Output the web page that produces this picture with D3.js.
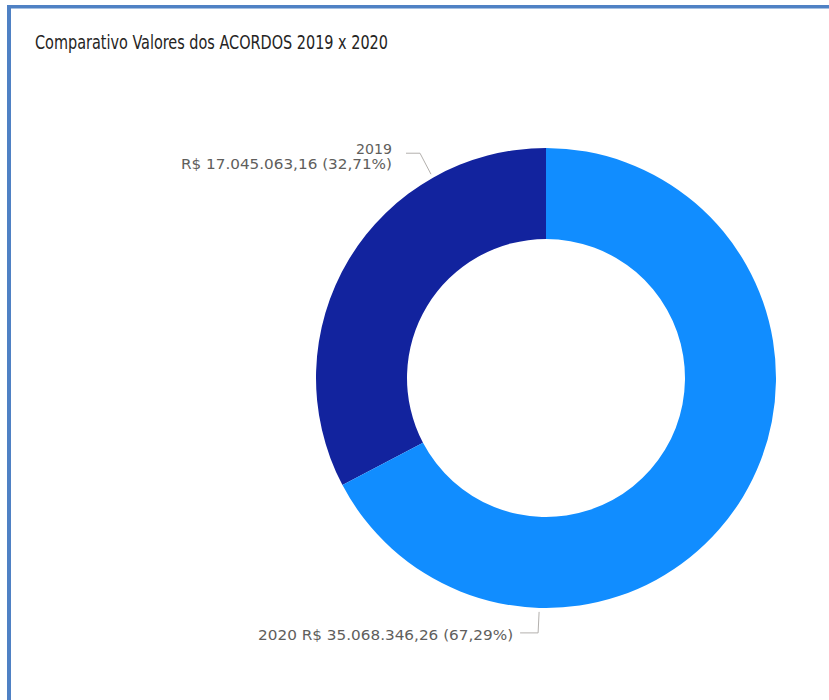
<!DOCTYPE html>
<html>
<head>
<meta charset="utf-8">
<script src="https://cdn.jsdelivr.net/npm/d3@7"></script>
<style>
  html, body { margin: 0; padding: 0; background: #fff; }
  svg { display: block; }
</style>
</head>
<body>
<svg id="chart" width="829" height="700"></svg>
<script>
// Agreement totals per year
const categories = ["2019", "2020"];
const values = [17045063.16, 35068346.26];
const valueLabels = ["R$ 17.045.063,16", "R$ 35.068.346,26"];
const percentLabels = ["32,71%", "67,29%"];
const colors = ["#12239E", "#118DFF"];

const titleText = "Comparativo Valores dos ACORDOS 2019 x 2020";

const svg = d3.select("#chart");
const W = 829, H = 700;

// Card frame: top and left edges
svg.append("rect").attr("x", 7).attr("y", 5).attr("width", W - 7).attr("height", 3.5).attr("fill", "#4F81C4");
svg.append("rect").attr("x", 7).attr("y", 5).attr("width", 4).attr("height", H - 5).attr("fill", "#4F81C4");

const fontStack = "'Liberation Sans Narrow', 'DejaVu Sans Condensed', 'Roboto', 'Liberation Sans', sans-serif";

svg.append("text")
  .attr("x", 35).attr("y", 49)
  .attr("font-family", fontStack)
  .attr("font-size", 20)
  .attr("fill", "#252423")
  .attr("textLength", 353)
  .attr("lengthAdjust", "spacingAndGlyphs")
  .text(titleText);

const cx = 546, cy = 378;
const outerR = 230, innerR = 139;

const data = categories.map((c, i) => ({
  category: c, value: values[i], valueLabel: valueLabels[i],
  pct: percentLabels[i], color: colors[i]
}));

// Slices run counter-clockwise from 12 o'clock
const pie = d3.pie().sort(null).value(d => d.value)
  .startAngle(0).endAngle(-2 * Math.PI);
const arcs = pie(data);

const arc = d3.arc().innerRadius(innerR).outerRadius(outerR);

const g = svg.append("g").attr("transform", `translate(${cx},${cy})`);
g.selectAll("path.slice")
  .data(arcs)
  .join("path")
  .attr("class", "slice")
  .attr("d", arc)
  .attr("fill", d => d.data.color);

// Leader anchors sit just outside the ring, a quarter into each slice
const anchorR = outerR + 4;
function anchor(d) {
  const a = d.startAngle + 0.25 * (d.endAngle - d.startAngle);
  return [anchorR * Math.sin(a), -anchorR * Math.cos(a)];
}

const labelColor = "#605E5C";
const lineColor = "#B3B0AD";

// 2019: label above-left of the ring
{
  const d = arcs[0];
  const [ax, ay] = anchor(d);
  const ex = ax - 11, ey = ay - 21;
  const hx = ex - 14;
  g.append("polyline")
    .attr("points", [[ax, ay], [ex, ey], [hx, ey]].map(p => p.join(",")).join(" "))
    .attr("fill", "none").attr("stroke", lineColor).attr("stroke-width", 1);
  const tx = hx - 14;
  g.append("text")
    .attr("x", tx).attr("y", ey + 1)
    .attr("text-anchor", "end")
    .attr("font-family", fontStack).attr("font-size", 14)
    .attr("fill", labelColor)
    .attr("textLength", 36).attr("lengthAdjust", "spacingAndGlyphs")
    .text(d.data.category);
  g.append("text")
    .attr("x", tx).attr("y", ey + 16)
    .attr("text-anchor", "end")
    .attr("font-family", fontStack).attr("font-size", 14)
    .attr("fill", labelColor)
    .attr("textLength", 211).attr("lengthAdjust", "spacingAndGlyphs")
    .text(`${d.data.valueLabel} (${d.data.pct})`);
}

// 2020: label below the ring
{
  const d = arcs[1];
  const [ax, ay] = anchor(d);
  const ex = ax - 1, ey = ay + 21;
  const hx = ex - 18;
  g.append("polyline")
    .attr("points", [[ax, ay], [ex, ey], [hx, ey]].map(p => p.join(",")).join(" "))
    .attr("fill", "none").attr("stroke", lineColor).attr("stroke-width", 1);
  g.append("text")
    .attr("x", hx - 7).attr("y", ey + 7)
    .attr("text-anchor", "end")
    .attr("font-family", fontStack).attr("font-size", 14)
    .attr("fill", labelColor)
    .attr("textLength", 255).attr("lengthAdjust", "spacingAndGlyphs")
    .text(`${d.data.category} ${d.data.valueLabel} (${d.data.pct})`);
}
</script>
</body>
</html>
